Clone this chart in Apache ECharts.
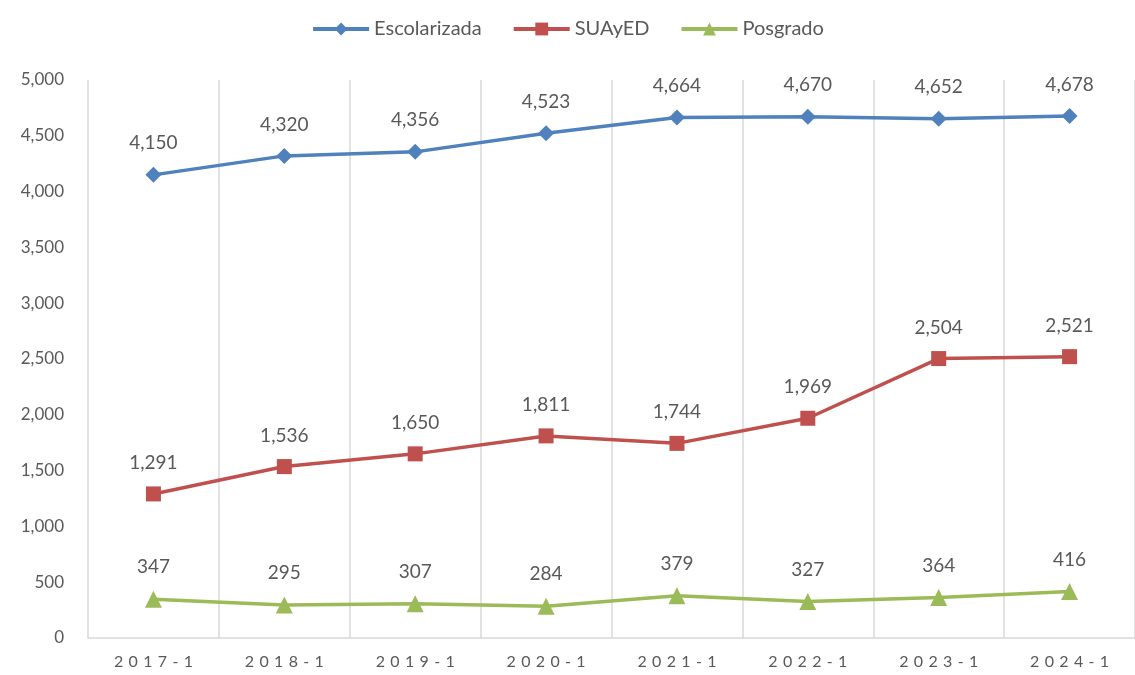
<!DOCTYPE html>
<html>
<head>
<meta charset="utf-8">
<script src="https://cdn.jsdelivr.net/npm/echarts@6/dist/echarts.min.js"></script>
<style>
  html, body { margin: 0; padding: 0; background: #fff; }
  #chart { width: 1135px; height: 675px; }
</style>
</head>
<body>
<div id="chart"></div>
<script>
var periodos = ['2017-1', '2018-1', '2019-1', '2020-1', '2021-1', '2022-1', '2023-1', '2024-1'];
var escolarizada = [4150, 4320, 4356, 4523, 4664, 4670, 4652, 4678];
var suayed = [1291, 1536, 1650, 1811, 1744, 1969, 2504, 2521];
var posgrado = [347, 295, 307, 284, 379, 327, 364, 416];

var fontName = 'Lato';
var gris = '#595959';

function serie(name, data, color, symbol, size) {
  return {
    name: name,
    type: 'line',
    data: data,
    symbol: symbol,
    symbolSize: size,
    lineStyle: { width: 3.5, color: color },
    itemStyle: { color: color },
    label: {
      show: true,
      position: 'top',
      distance: 14,
      color: gris,
      fontSize: 19,
      fontFamily: fontName,
      formatter: function (p) { return p.value.toLocaleString('en-US'); }
    }
  };
}

var myChart = echarts.init(document.getElementById('chart'));
var option = {
  animation: false,
  legend: {
    top: 14,
    left: 'center',
    itemWidth: 56,
    itemHeight: 16,
    itemGap: 30,
    lineStyle: { width: 4 },
    textStyle: { color: gris, fontSize: 20, fontFamily: fontName },
    data: ['Escolarizada', 'SUAyED', 'Posgrado']
  },
  grid: { left: 88, right: -5, top: 80, bottom: 37 },
  xAxis: {
    type: 'category',
    data: periodos,
    boundaryGap: true,
    axisLine: { lineStyle: { color: '#d9d9d9', width: 1.5 } },
    axisTick: { show: false },
    splitLine: { show: true, lineStyle: { color: '#d9d9d9', width: 1.5 } },
    axisLabel: {
      color: gris,
      fontSize: 16,
      fontFamily: fontName,
      margin: 16,
      formatter: function (v) { return v.split('').join('\u2004'); }
    }
  },
  yAxis: {
    type: 'value',
    min: 0,
    max: 5000,
    interval: 500,
    axisLine: { show: false },
    axisTick: { show: false },
    splitLine: { show: false },
    axisLabel: {
      color: gris,
      fontSize: 17,
      fontFamily: fontName,
      margin: 24,
      formatter: function (v) { return v.toLocaleString('en-US'); }
    }
  },
  series: [
    serie('Escolarizada', escolarizada, '#4F81BD', 'diamond', 16),
    serie('SUAyED', suayed, '#C0504D', 'rect', 15),
    serie('Posgrado', posgrado, '#9BBB59', 'triangle', 17)
  ]
};
myChart.setOption(option);
</script>
</body>
</html>
